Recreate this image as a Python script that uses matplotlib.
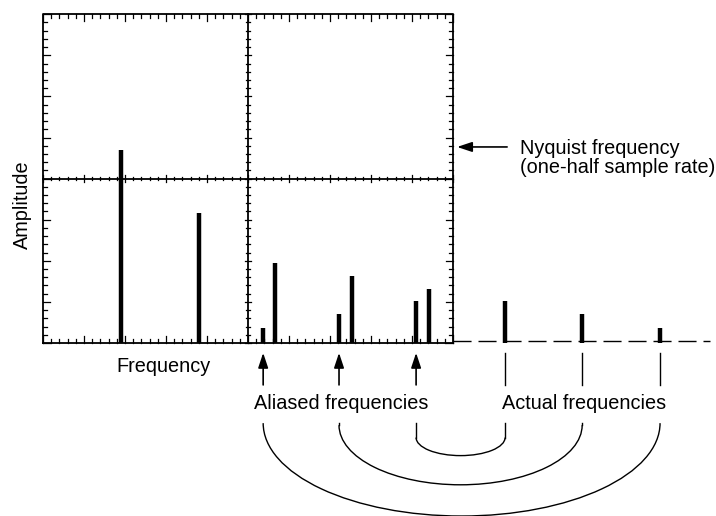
import numpy as np
import matplotlib
matplotlib.use("Agg")
import matplotlib.pyplot as plt
from matplotlib.patches import Arc

# Graticule: 10 x 8 divisions, 5 minor ticks per division
n_xdiv = 10
n_ydiv = 8

# Spectral lines (frequency and amplitude in divisions)
signal_freq = [1.90, 3.80]
signal_amp = [4.70, 3.16]
other_freq = [5.66, 7.54, 9.41]
other_amp = [1.95, 1.63, 1.31]
aliased_freq = [5.37, 7.22, 9.10]
aliased_amp = [0.36, 0.71, 1.02]
actual_freq = [15.05, 13.15, 11.27]
actual_amp = [0.36, 0.71, 1.02]

plt.rcParams['font.family'] = ['Liberation Sans', 'DejaVu Sans']

fig = plt.figure(figsize=(7.16, 5.16), dpi=100)
ax = fig.add_axes([0, 0, 1, 1])
ax.set_xlim(-43 / 41, 673 / 41)
ax.set_ylim((343 - 516) / 41.1, 343 / 41.1)
ax.axis('off')

# box and centre lines
lw_grid = 1.3
ax.plot([0, n_xdiv, n_xdiv, 0, 0], [0, 0, n_ydiv, n_ydiv, 0], color='k', lw=lw_grid)
ax.plot([n_xdiv / 2, n_xdiv / 2], [0, n_ydiv], color='k', lw=lw_grid)
ax.plot([0, n_xdiv], [n_ydiv / 2, n_ydiv / 2], color='k', lw=lw_grid)

# ticks
xt = np.arange(0, n_xdiv + 0.01, 0.2)
yt = np.arange(0, n_ydiv + 0.01, 0.2)
def tlen(v):
    return 0.17 if abs(v - round(v)) < 1e-6 else 0.09
for x in xt:
    L = tlen(x)
    ax.plot([x, x], [0, L], color='k', lw=0.9)
    ax.plot([x, x], [n_ydiv, n_ydiv - L], color='k', lw=0.9)
    ax.plot([x, x], [n_ydiv / 2 - L / 2, n_ydiv / 2 + L / 2], color='k', lw=0.9)
for y in yt:
    L = tlen(y)
    ax.plot([0, L], [y, y], color='k', lw=0.9)
    ax.plot([n_xdiv, n_xdiv - L], [y, y], color='k', lw=0.9)
    ax.plot([n_xdiv / 2 - L / 2, n_xdiv / 2 + L / 2], [y, y], color='k', lw=0.9)

# spectral lines
bar_lw = 3.2
ax.vlines(signal_freq, 0, signal_amp, color='k', lw=bar_lw)
ax.vlines(other_freq, 0, other_amp, color='k', lw=bar_lw)
ax.vlines(aliased_freq, 0, aliased_amp, color='k', lw=bar_lw)
ax.vlines(actual_freq, 0, actual_amp, color='k', lw=bar_lw)

# dashed baseline beyond Nyquist
ax.plot([n_xdiv, 16.27], [0.04, 0.04], color='k', lw=1.0, dashes=(13, 5))

# arrows to aliased lines, plain markers under actual lines
for f in aliased_freq:
    ax.annotate('', xy=(f, -0.24), xytext=(f, -1.02),
                arrowprops=dict(arrowstyle='-|>,head_length=0.45,head_width=0.15',
                                lw=1.2, color='k', mutation_scale=20,
                                shrinkA=0, shrinkB=0))
for f in actual_freq:
    ax.plot([f, f], [-0.24, -1.02], color='k', lw=1.0)

# arcs joining each aliased line with its actual frequency
arc_top = -1.95
arc_drop = [0.0, 0.05, 0.35]
arc_depth = [2.26, 1.45, 0.44]
for fa, fb, drop, depth in zip(aliased_freq, actual_freq, arc_drop, arc_depth):
    cx = (fa + fb) / 2
    w = fb - fa
    cy = arc_top - drop
    ax.plot([fa, fa], [arc_top, cy], color='k', lw=1.0)
    ax.plot([fb, fb], [arc_top, cy], color='k', lw=1.0)
    ax.add_patch(Arc((cx, cy), w, 2 * depth, theta1=180, theta2=360,
                     color='k', lw=1.0))

# Nyquist arrow
ax.annotate('', xy=(10.1, 4.77), xytext=(11.32, 4.77),
            arrowprops=dict(arrowstyle='-|>,head_length=0.45,head_width=0.15',
                            lw=1.2, color='k', mutation_scale=20,
                            shrinkA=0, shrinkB=0))

fs = 14.3
ax.text(11.63, 4.74, 'Nyquist frequency', fontsize=fs, ha='left', va='center')
ax.text(11.63, 4.28, '(one-half sample rate)', fontsize=fs, ha='left', va='center')
ax.text(-0.51, 3.36, 'Amplitude', fontsize=fs, rotation=90, ha='center', va='center')
ax.text(2.95, -0.56, 'Frequency', fontsize=fs, ha='center', va='center')
ax.text(7.27, -1.46, 'Aliased frequencies', fontsize=fs, ha='center', va='center')
ax.text(13.2, -1.46, 'Actual frequencies', fontsize=fs, ha='center', va='center')

fig.savefig('out.png', dpi=100)
